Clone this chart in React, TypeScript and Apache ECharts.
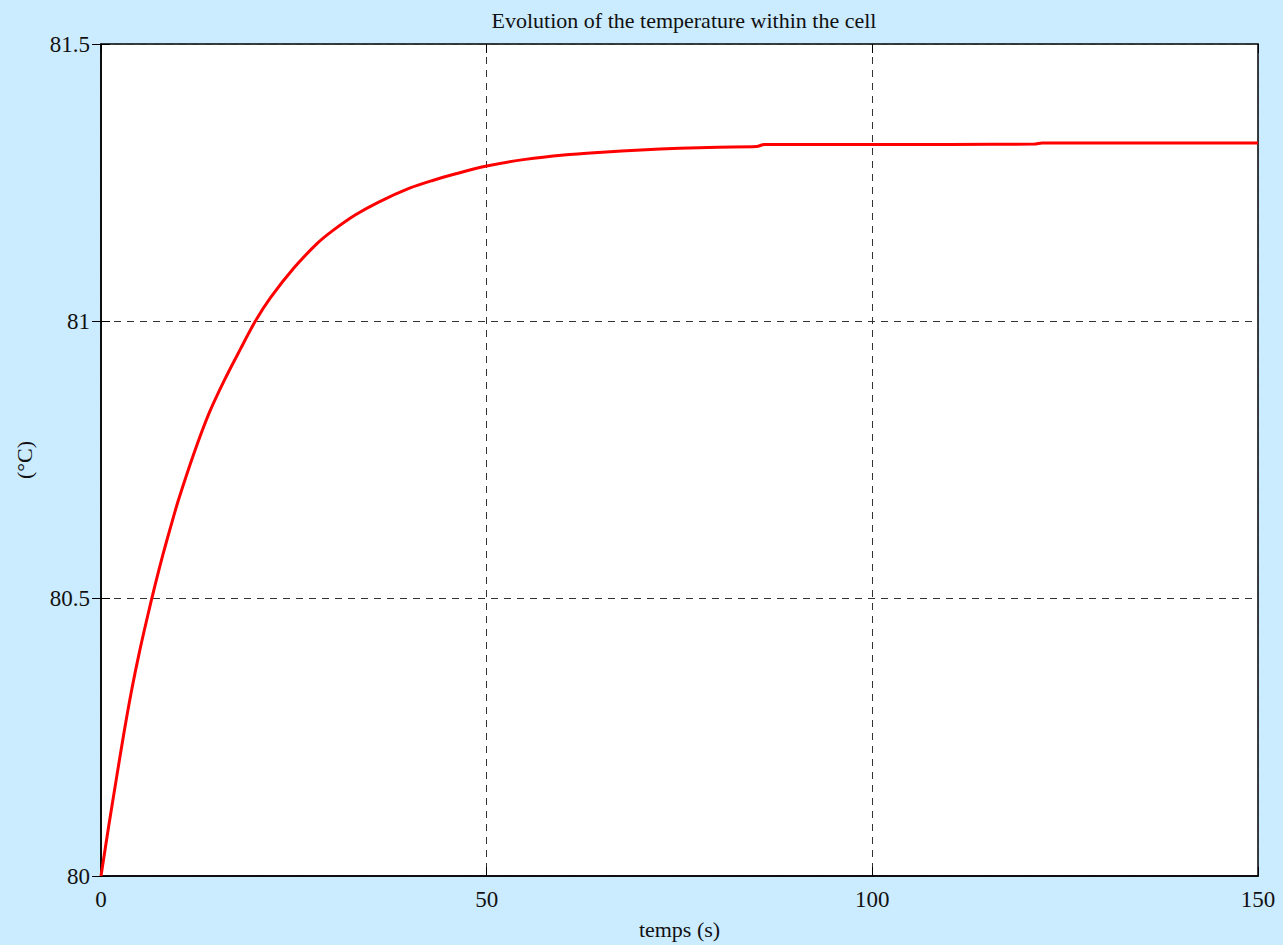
import React, { useEffect, useRef } from "react";
import * as echarts from "echarts";

const titleText = "Evolution of the temperature within the cell";
const xAxisName = "temps (s)";
const yAxisName = "(°C)";

// time (s)
const timeValues = [
  0, 1, 2, 3, 4, 5, 6, 7, 8, 9, 10, 12, 14, 16, 18, 20, 22, 25, 28, 30, 33,
  36, 40, 43, 46, 50, 55, 60, 65, 70, 75, 80, 85, 86, 100, 110, 121, 122, 135,
  150,
];
// temperature (°C)
const tempValues = [
  80.0, 80.09, 80.176, 80.26, 80.337, 80.405, 80.466, 80.524, 80.578, 80.628,
  80.676, 80.76, 80.834, 80.894, 80.948, 81.0, 81.043, 81.096, 81.14, 81.163,
  81.192, 81.215, 81.24, 81.254, 81.266, 81.28, 81.292, 81.3, 81.305, 81.309,
  81.312, 81.314, 81.315, 81.319, 81.319, 81.319, 81.3195, 81.3215, 81.3215,
  81.3215,
];

const xTicks = { min: 0, max: 150, interval: 50 };
const yTicks = { min: 80, max: 81.5, interval: 0.5 };

export default function App() {
  const ref = useRef<HTMLDivElement>(null);

  useEffect(() => {
    if (!ref.current) return;
    const chart = echarts.init(ref.current, undefined, { renderer: "svg" });
    const data = timeValues.map((t, i) => [t, tempValues[i]]);
    const font = "Liberation Serif";
    const gridLine = {
      show: true,
      lineStyle: { color: "#333", width: 1, type: [7, 6] as any },
    };
    const tickIn = {
      show: true,
      inside: true,
      length: 9,
      lineStyle: { color: "#000", width: 1 },
    };
    chart.setOption({
      animation: false,
      backgroundColor: "#cbebff",
      title: {
        text: titleText,
        left: 679,
        textAlign: "center",
        top: 4,
        textStyle: {
          fontFamily: font,
          fontSize: 22,
          fontWeight: "normal",
          color: "#111",
        },
      },
      grid: {
        left: 101,
        right: 25,
        top: 44,
        bottom: 59,
        show: true,
        backgroundColor: "#ffffff",
        borderColor: "#000",
        borderWidth: 1.5,
      },
      xAxis: [
        {
          type: "value",
          min: xTicks.min,
          max: xTicks.max,
          interval: xTicks.interval,
          name: xAxisName,
          nameLocation: "middle",
          nameGap: 42,
          nameTextStyle: { fontFamily: font, fontSize: 22, color: "#111" },
          axisLine: { show: true, lineStyle: { color: "#000", width: 1.5 } },
          axisTick: tickIn,
          axisLabel: {
            fontFamily: font,
            fontSize: 23,
            color: "#111",
            margin: 12,
          },
          splitLine: gridLine,
        },
        {
          type: "value",
          position: "top",
          min: xTicks.min,
          max: xTicks.max,
          interval: xTicks.interval,
          axisLine: { show: false },
          axisTick: tickIn,
          axisLabel: { show: false },
          splitLine: { show: false },
        },
      ],
      yAxis: [
        {
          type: "value",
          min: yTicks.min,
          max: yTicks.max,
          interval: yTicks.interval,
          name: yAxisName,
          nameLocation: "middle",
          nameGap: 66,
          nameRotate: 90,
          nameTextStyle: { fontFamily: font, fontSize: 22, color: "#111" },
          axisLine: { show: true, lineStyle: { color: "#000", width: 1.5 } },
          axisTick: tickIn,
          axisLabel: {
            fontFamily: font,
            fontSize: 23,
            color: "#111",
            margin: 11,
          },
          splitLine: gridLine,
        },
        {
          type: "value",
          position: "right",
          min: yTicks.min,
          max: yTicks.max,
          interval: yTicks.interval,
          axisLine: { show: false },
          axisTick: tickIn,
          axisLabel: { show: false },
          splitLine: { show: false },
        },
      ],
      series: [
        {
          type: "line",
          data,
          xAxisIndex: 0,
          yAxisIndex: 0,
          showSymbol: false,
          symbol: "none",
          smooth: 0.3,
          lineStyle: { color: "#ff0000", width: 3 },
          z: 10,
        },
      ],
    });
    return () => chart.dispose();
  }, []);

  return (
    <div
      ref={ref}
      style={{ position: "fixed", left: 0, top: 0, width: 1283, height: 945 }}
    />
  );
}
